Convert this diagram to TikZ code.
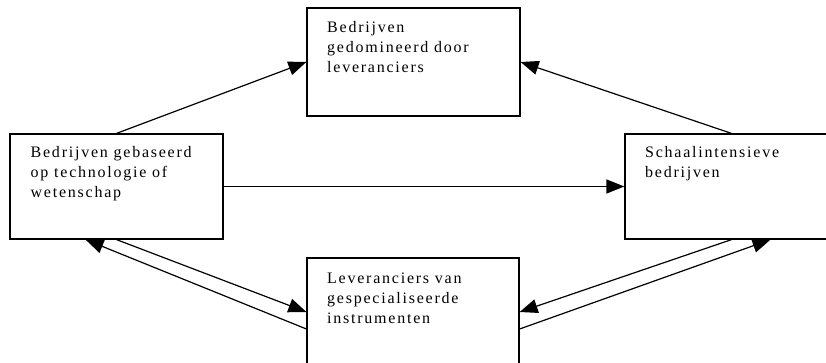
\documentclass[tikz,border=0pt]{standalone}
\usepackage{fontspec}
\setmainfont{Liberation Serif}[LetterSpace=11]
\usetikzlibrary{arrows.meta}
\begin{document}
\begin{tikzpicture}[x=1pt,y=-1pt,
  box/.style={draw,line width=1.2pt,inner sep=0pt,minimum width=213pt,minimum height=106pt},
  txt/.style={font=\fontsize{16}{20}\selectfont,align=left,inner sep=0pt,anchor=base west},
  conn/.style={line width=1.2pt,-{Triangle[length=18pt,width=14pt]}}]
\clip (0,0) rectangle (826,363);
\node[box,minimum height=108pt] (T) at (413.5,62) {};
\node[box,minimum height=105pt] (L) at (116.5,186.5) {};
\node[box,minimum height=105pt] (R) at (731.5,186.5) {};
\node[box,minimum height=108pt,minimum width=212pt] (B) at (413,312) {};
\node[txt] (Tt) at (327,73) {Bedrijven\\gedomineerd door\\leveranciers};
\node[txt] (Lt) at (30.5,198) {Bedrijven gebaseerd\\op technologie of\\wetenschap};
\node[txt] (Rt) at (645,178) {Schaalintensieve\\bedrijven};
\node[txt] (Bt) at (327,323) {Leveranciers van\\gespecialiseerde\\instrumenten};
\draw[conn] (L.north) -- (T.west);
\draw[conn] (R.north) -- (T.east);
\draw[conn] (L.east) -- (R.west);
\draw[conn] (L.south) -- (B.west);
\draw[conn] ([yshift=-17pt]B.west) -- ([xshift=-31pt]L.south);
\draw[conn] (R.south) -- (B.east);
\draw[conn] ([yshift=-17pt]B.east) -- ([xshift=39pt]R.south);
\end{tikzpicture}
\end{document}
